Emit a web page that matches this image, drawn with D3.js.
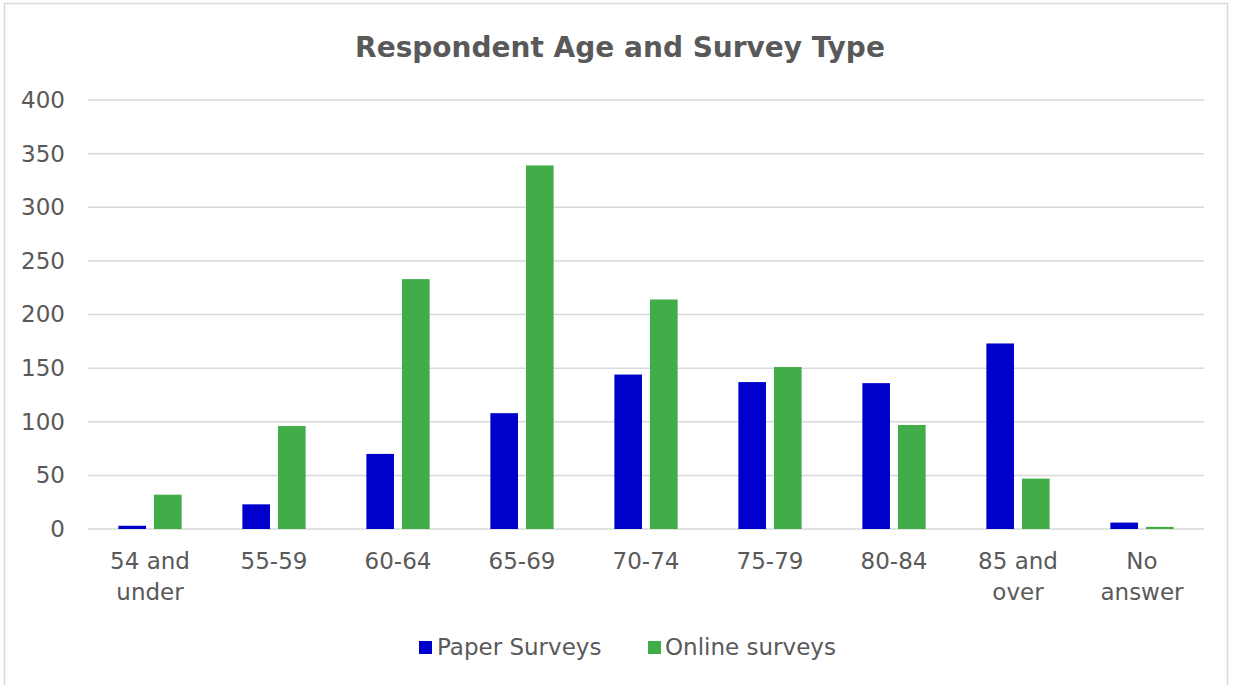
<!DOCTYPE html>
<html><head><meta charset="utf-8">
<script src="https://cdn.jsdelivr.net/npm/d3@7"></script>
<style>body{margin:0;background:#fff;}svg{display:block;font-family:"DejaVu Sans",sans-serif;}</style>
</head><body>
<svg id="c" width="1233" height="685"></svg>
<script>
const categories = ["54 and|under","55-59","60-64","65-69","70-74","75-79","80-84","85 and|over","No|answer"];
const seriesNames = ["Paper Surveys","Online surveys"];
const paperValues = [3,23,70,108,144,137,136,173,6];
const onlineValues = [32,96,233,339,214,151,97,47,2];
const yTicks = [0,50,100,150,200,250,300,350,400];
const colors = ["#0000CC","#40AD48"];
const FONT = "'DejaVu Sans',sans-serif";

const svg = d3.select("#c");
const L=88, R=1204, T=100, B=529;
svg.append("rect").attr("x",4.5).attr("y",3.5).attr("width",1223).attr("height",690)
  .attr("fill","#fff").attr("stroke","#d9d9d9").attr("stroke-width",1.5);

const y = d3.scaleLinear().domain([0,400]).range([B,T]);
const x0 = d3.scaleBand().domain(categories).range([L,R]).paddingInner(0.49).paddingOuter(0.245);
const x1 = d3.scaleBand().domain(seriesNames).range([0,x0.bandwidth()]).paddingInner(0.225);

// gridlines
svg.append("g").selectAll("line").data(yTicks).join("line")
  .attr("x1",L).attr("x2",R).attr("y1",d=>y(d)).attr("y2",d=>y(d))
  .attr("stroke","#d9d9d9").attr("stroke-width",1.5);

// y axis labels
const ya = svg.append("g").attr("transform",`translate(${L},0)`)
  .call(d3.axisLeft(y).tickValues(yTicks).tickSize(0).tickPadding(23));
ya.select(".domain").remove();
ya.selectAll("text").attr("font-size",23).attr("fill","#595959").attr("font-family",FONT);

// bars
const data = categories.map((c,i)=>({c, vals:[paperValues[i],onlineValues[i]]}));
const g = svg.append("g").selectAll("g").data(data).join("g")
  .attr("transform",d=>`translate(${x0(d.c)},0)`);
g.selectAll("rect").data(d=>d.vals.map((v,j)=>({s:seriesNames[j],v,j}))).join("rect")
  .attr("x",d=>x1(d.s)).attr("width",x1.bandwidth())
  .attr("y",d=>y(d.v)).attr("height",d=>y(0)-y(d.v))
  .attr("fill",d=>colors[d.j]);

// x labels
const xa = svg.append("g").attr("transform",`translate(0,${B})`)
  .call(d3.axisBottom(x0).tickSize(0).tickFormat(""));
xa.select(".domain").remove();
xa.selectAll(".tick").each(function(d){
  const lines = d.split("|");
  const t = d3.select(this).append("text").attr("fill","#595959").attr("font-size",23)
    .attr("text-anchor","middle").attr("font-family",FONT);
  lines.forEach((ln,k)=>t.append("tspan").attr("x",0).attr("y",40+k*31).text(ln));
});

// title
svg.append("text").attr("x",620).attr("y",57).attr("text-anchor","middle")
  .attr("font-size",28).attr("font-weight","bold").attr("fill","#595959")
  .text("Respondent Age and Survey Type");

// legend
const leg = [{n:seriesNames[0],x:419,tx:437},{n:seriesNames[1],x:648,tx:665}];
leg.forEach((l,i)=>{
  svg.append("rect").attr("x",l.x).attr("y",641).attr("width",13).attr("height",13).attr("fill",colors[i]);
  svg.append("text").attr("x",l.tx).attr("y",655).attr("font-size",23).attr("fill","#595959").text(l.n);
});
</script>
</body></html>
